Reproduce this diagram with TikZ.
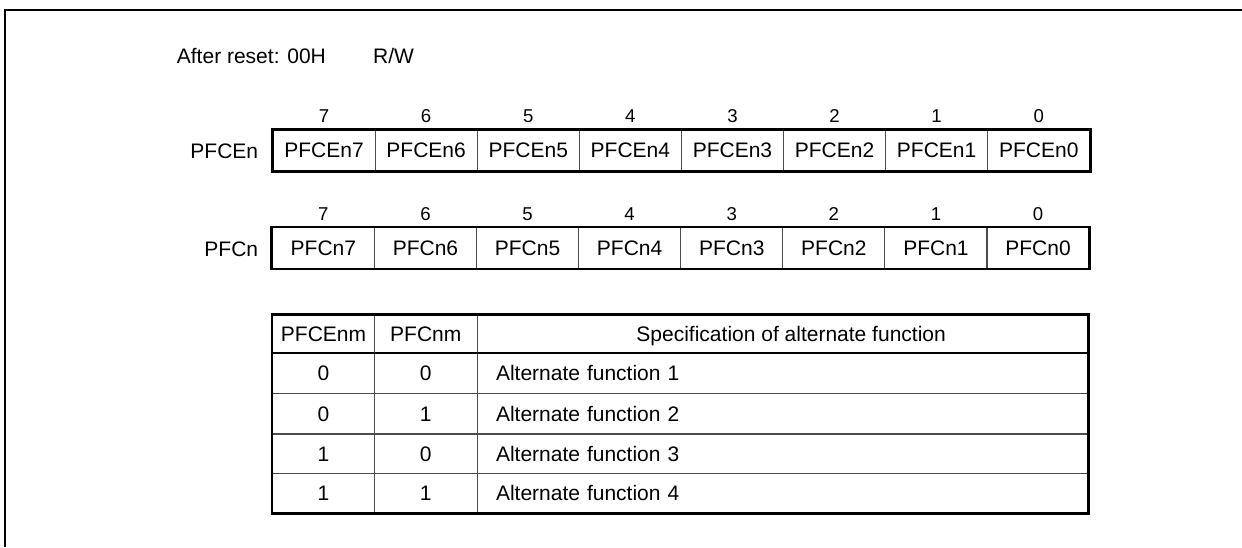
\documentclass[tikz,border=0pt]{standalone}
\usepackage{fontspec}
\setmainfont{Liberation Sans}
\begin{document}
\begin{tikzpicture}[x=1pt,y=-1pt,
  txt/.style={font=\fontsize{21}{25}\selectfont, inner sep=0pt},
  bitnum/.style={font=\fontsize{18.6}{22}\selectfont, inner sep=0pt, anchor=base},
  cell/.style={draw=black!70, line width=1.1pt, inner sep=0pt,
    font=\fontsize{21}{25}\selectfont, text height=15pt, text depth=0pt,
    minimum height=#1},
  cell/.default=40.6pt,
  thickframe/.style={line width=2.6pt, line join=miter},
]
\useasboundingbox (0,0) rectangle (1242,547);
% outer frame (open at right and bottom)
\draw[line width=2.5pt] (5.2,547) -- (5.2,10) -- (1242,10);

% header texts
\node[txt, anchor=base west] (reset) at (176.7,63.3) {After reset: 00H};
\node[txt, anchor=base west] (rw) at (373,63.3) {R/W};

% PFCEn register
\node[txt, anchor=base east] (lblce) at (258.3,158.3) {PFCEn};
\foreach \b [count=\i from 0] in {7,6,5,4,3,2,1,0} {
  \node[cell, minimum width=102.1pt] (ce\i) at ({273+102.1*(\i+0.5)},150.35) {PFCEn\b};
  \node[bitnum] (nce\i) at ({273+102.1*(\i+0.5)},122) {\b};
}
\draw[thickframe] (ce0.north west) rectangle (ce7.south east);

% PFCn register
\node[txt, anchor=base east] (lblc) at (258.3,256.3) {PFCn};
\foreach \b [count=\i from 0] in {7,6,5,4,3,2,1,0} {
  \node[cell, minimum width=102.1pt] (c\i) at ({272.3+102.1*(\i+0.5)},248) {PFCn\b};
  \node[bitnum] (nc\i) at ({272.3+102.1*(\i+0.5)},220) {\b};
}
\draw[thickframe] (c0.north west) rectangle (c7.south east);

% table header
\node[cell=37.7pt, minimum width=101.6pt] (h1) at (323.5,333.85) {PFCEnm};
\node[cell=37.7pt, minimum width=103pt] (h2) at (425.8,333.85) {PFCnm};
\node[cell=37.7pt, minimum width=610.7pt] (h3) at (782.65,333.85) {\hspace*{17pt}Specification of alternate function};

% table body
\foreach \y/\h/\a/\c/\n [count=\r] in {373/40.6/0/0/1, 413.65/40.7/0/1/2, 453.65/39.3/1/0/3, 493.15/39.7/1/1/4} {
  \node[cell=\h pt, minimum width=101.6pt] (ra\r) at (323.5,\y) {\a};
  \node[cell=\h pt, minimum width=103pt] (rb\r) at (425.8,\y) {\c};
  \node[cell=\h pt, minimum width=610.7pt, text width=573.3pt, align=left, inner xsep=18.7pt] (rc\r) at (782.65,\y) {Alternate function \n};
}
\draw[line width=2.4pt] (h1.south west) -- (h3.south east);
\draw[thickframe] (h1.north west) rectangle (rc4.south east);
\end{tikzpicture}
\end{document}
